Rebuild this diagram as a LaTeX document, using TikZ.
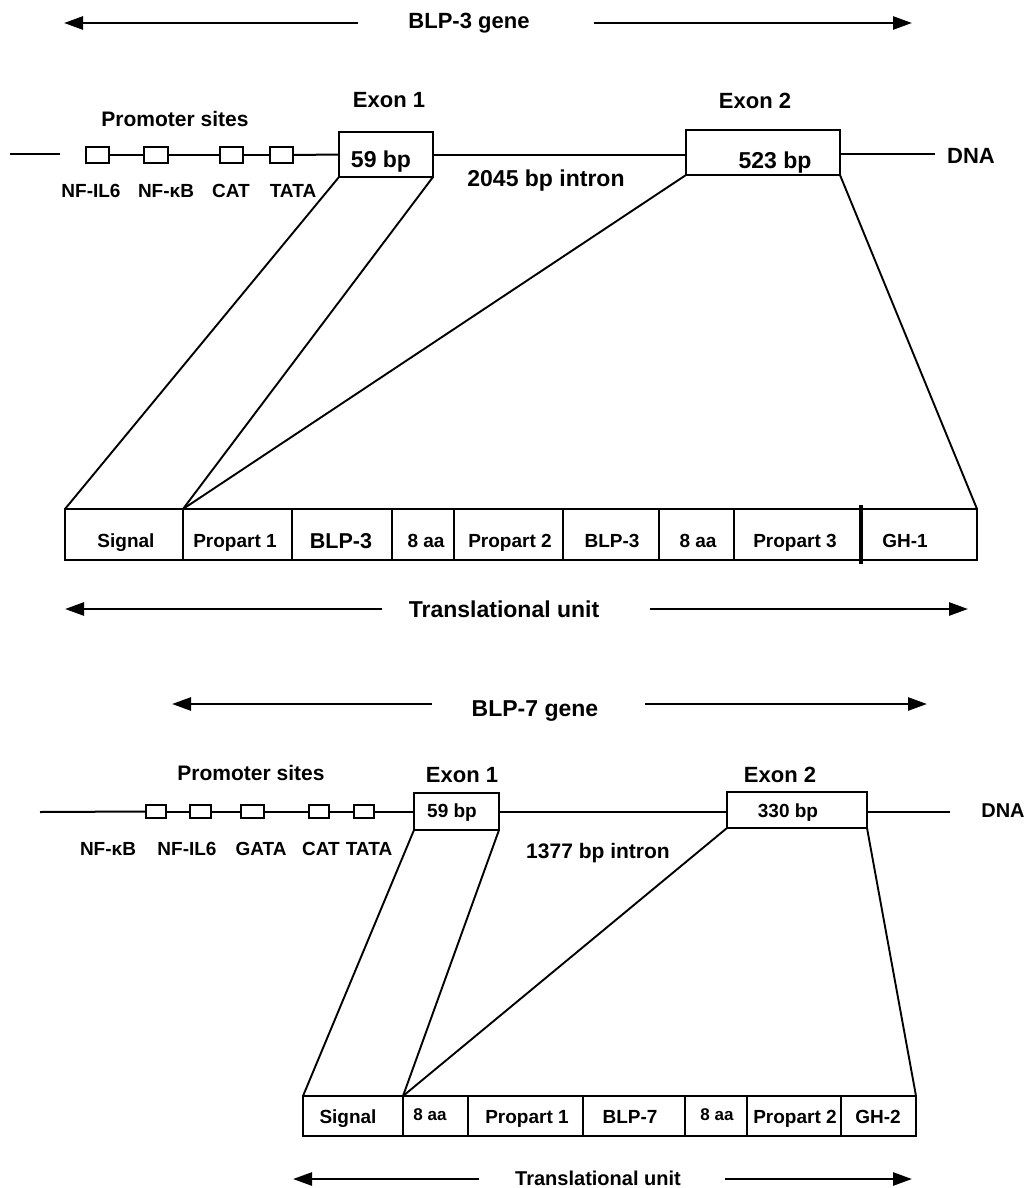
\documentclass[tikz,border=0pt]{standalone}
\usepackage{fontspec}
\setmainfont{Liberation Sans}
\usetikzlibrary{arrows.meta}
\begin{document}
\begin{tikzpicture}[x=1pt,y=-1pt,
  bx/.style={draw,line width=2pt,inner sep=0pt,outer sep=0pt,anchor=north west},
  pbox/.style={bx,minimum width=#1,minimum height=16},
  qbox/.style={bx,minimum width=#1,minimum height=13},
  cellA/.style={bx,minimum width=#1,minimum height=51},
  cellB/.style={bx,minimum width=#1,minimum height=40},
  ln/.style={line width=2pt},
  fan/.style={line width=1.9pt},
  arr/.style={line width=2.6pt,-{Triangle[length=19pt,width=13pt]}},
  txt/.style={anchor=base,inner sep=0pt,outer sep=0pt,font=\bfseries\fontsize{#1}{#1}\selectfont},
]
\useasboundingbox (0,0) rectangle (1027,1188);

% ================= BLP-3 =================
\node[txt=22] (g3) at (469,29) {BLP-3 gene};
\coordinate (g3a) at (358,23); \coordinate (g3b) at (64,23);
\coordinate (g3c) at (594,23); \coordinate (g3d) at (912,23);
\draw[arr] (g3a) -- (g3b);
\draw[arr] (g3c) -- (g3d);

\node[txt=22] (ex1t) at (389,108) {Exon 1};
\node[txt=22] (ex2t) at (755,109) {Exon 2};
\node[txt=21] (prt) at (175,127) {Promoter sites};

% promoter boxes
\node[pbox=23] (p1) at (86,147) {};
\node[pbox=24] (p2) at (144,147) {};
\node[pbox=23] (p3) at (220,147) {};
\node[pbox=23] (p4) at (270,147) {};
% exons
\node[bx,minimum width=94,minimum height=45] (e1) at (339,132) {};
\node[bx,minimum width=154,minimum height=45] (e2) at (686,130) {};

\coordinate (dl1) at (10,154); \coordinate (dl2) at (60,154);
\coordinate (dr) at (935,154);
\draw[ln] (dl1) -- (dl2);
\draw[ln] (p1.east) -- (p2.west);
\draw[ln] (p2.east) -- (p3.west);
\draw[ln] (p3.east) -- (p4.west);
\draw[ln] (p4.east) -- (e1.west);
\draw[ln] (e1.east) -- (e1.east -| e2.west);
\draw[ln] (e2.east |- dr) -- (dr);

\node[txt=23] (bp59) at (381,167) {59 bp};
\node[txt=23] (bp523) at (775,168) {523 bp};
\node[txt=23] (intr1) at (546,186) {2045 bp intron};
\node[txt=22] (dna1) at (971,163) {DNA};

\node[txt=19] (l1) at (91,197) {NF-IL6};
\node[txt=19] (l2) at (166,197) {NF-κB};
\node[txt=19] (l3) at (231,197) {CAT};
\node[txt=19] (l4) at (293,197) {TATA};

% translational unit cells
\node[cellA=118] (c1) at (65,509) {};
\node[cellA=109] (c2) at (183,509) {};
\node[cellA=100] (c3) at (292,509) {};
\node[cellA=62]  (c4) at (392,509) {};
\node[cellA=109] (c5) at (454,509) {};
\node[cellA=96]  (c6) at (563,509) {};
\node[cellA=75]  (c7) at (659,509) {};
\node[cellA=127] (c8) at (734,509) {};
\node[cellA=116] (c9) at (861,509) {};
\draw[line width=2.8pt] (c3.north west) -- (c3.south west);
\draw[line width=2.8pt] (c4.north west) -- (c4.south west);
\draw[line width=2.8pt] (c6.north west) -- (c6.south west);
\draw[line width=2.8pt] (c7.north west) -- (c7.south west);
\draw[line width=3.6pt] ([yshift=4pt]c9.north west) -- ([yshift=-4pt]c9.south west);

\node[txt=19] (s1) at (126,547) {Signal};
\node[txt=19] (s2) at (235,547) {Propart 1};
\node[txt=21.5] (s3) at (341,548) {BLP-3};
\node[txt=19] (s4) at (426,547) {8 aa};
\node[txt=19] (s5) at (510,547) {Propart 2};
\node[txt=19] (s6) at (612,547) {BLP-3};
\node[txt=19] (s7) at (698,547) {8 aa};
\node[txt=19] (s8) at (795,547) {Propart 3};
\node[txt=19] (s9) at (905,547) {GH-1};

\draw[fan] (e1.south west) -- (c1.north west);
\draw[fan] (e1.south east) -- (c2.north west);
\draw[fan] (e2.south west) -- (c2.north west);
\draw[fan] (e2.south east) -- (c9.north east);

\node[txt=23] (tu1) at (504,617) {Translational unit};
\coordinate (t1a) at (382,609); \coordinate (t1b) at (65,609);
\coordinate (t1c) at (650,609); \coordinate (t1d) at (968,609);
\draw[arr] (t1a) -- (t1b);
\draw[arr] (t1c) -- (t1d);

% ================= BLP-7 =================
\node[txt=23] (g7) at (535,716) {BLP-7 gene};
\coordinate (g7a) at (432,704); \coordinate (g7b) at (172,704);
\coordinate (g7c) at (645,704); \coordinate (g7d) at (927,704);
\draw[arr] (g7a) -- (g7b);
\draw[arr] (g7c) -- (g7d);

\node[txt=21] (prt2) at (251,780) {Promoter sites};
\node[txt=22] (ex3t) at (462,782) {Exon 1};
\node[txt=22] (ex4t) at (780,782) {Exon 2};

\node[qbox=20] (q1) at (146,805) {};
\node[qbox=21] (q2) at (190,805) {};
\node[qbox=23] (q3) at (241,805) {};
\node[qbox=20] (q4) at (309,805) {};
\node[qbox=20] (q5) at (354,805) {};
\node[bx,minimum width=85,minimum height=37] (e3) at (414,793) {};
\node[bx,minimum width=140,minimum height=36] (e4) at (727,792) {};

\coordinate (dl3) at (40,812); \coordinate (dr2) at (950,812);
\draw[ln] (dl3) -- (q1.west);
\draw[ln] (q1.east) -- (q2.west);
\draw[ln] (q2.east) -- (q3.west);
\draw[ln] (q3.east) -- (q4.west);
\draw[ln] (q4.east) -- (q5.west);
\draw[ln] (q5.east) -- (q5.east -| e3.west);
\draw[ln] (e3.east |- dr2) -- (e4.west |- dr2);
\draw[ln] (e4.east |- dr2) -- (dr2);

\node[txt=19] (bp59b) at (452,817) {59 bp};
\node[txt=19] (bp330) at (788,817) {330 bp};
\node[txt=20] (dna2) at (1003,817) {DNA};
\node[txt=21] (intr2) at (598,858) {1377 bp intron};

\node[txt=19] (m1) at (108,855) {NF-κB};
\node[txt=19] (m2) at (187,855) {NF-IL6};
\node[txt=19] (m3) at (261,855) {GATA};
\node[txt=19] (m4) at (321,855) {CAT};
\node[txt=19] (m5) at (369,855) {TATA};

\node[cellB=100] (d1) at (303,1096) {};
\node[cellB=65]  (d2) at (403,1096) {};
\node[cellB=115] (d3) at (468,1096) {};
\node[cellB=102] (d4) at (583,1096) {};
\node[cellB=62]  (d5) at (685,1096) {};
\node[cellB=94]  (d6) at (747,1096) {};
\node[cellB=75]  (d7) at (841,1096) {};

\node[txt=19] (u1) at (348,1123) {Signal};
\node[txt=17] (u2) at (430,1120) {8 aa};
\node[txt=19] (u3) at (527,1123) {Propart 1};
\node[txt=19] (u4) at (630,1123) {BLP-7};
\node[txt=17] (u5) at (717,1120) {8 aa};
\node[txt=19] (u6) at (795,1123) {Propart 2};
\node[txt=19] (u7) at (878,1123) {GH-2};

\draw[fan] (e3.south west) -- (d1.north west);
\draw[fan] (e3.south east) -- (d2.north west);
\draw[fan] (e4.south west) -- (d2.north west);
\draw[fan] (e4.south east) -- (d7.north east);

\node[txt=20] (tu2) at (598,1185) {Translational unit};
\coordinate (t2a) at (479,1179); \coordinate (t2b) at (293,1179);
\coordinate (t2c) at (725,1179); \coordinate (t2d) at (912,1179);
\draw[arr] (t2a) -- (t2b);
\draw[arr] (t2c) -- (t2d);
\end{tikzpicture}
\end{document}
